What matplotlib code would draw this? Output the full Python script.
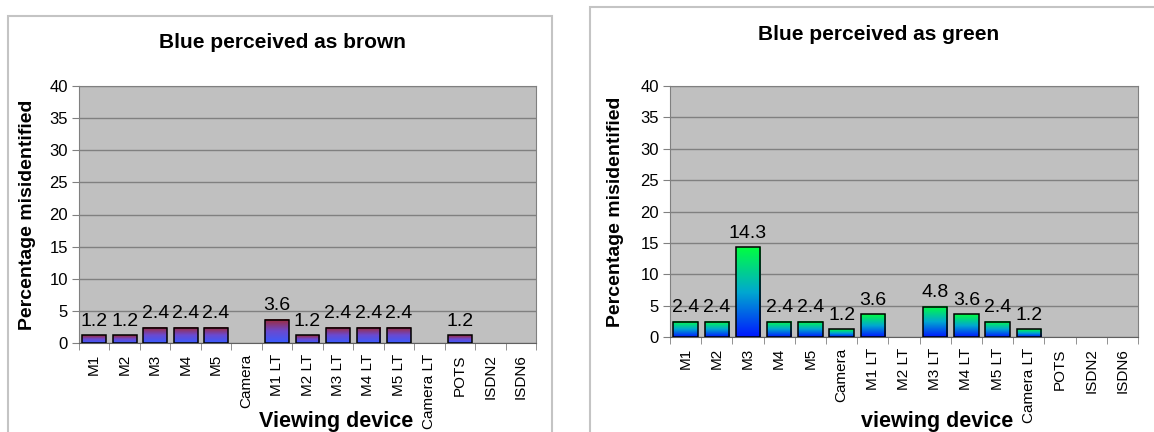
import matplotlib
matplotlib.use('Agg')
import matplotlib.pyplot as plt
import numpy as np
from matplotlib.colors import LinearSegmentedColormap
from matplotlib.patches import Rectangle

plt.rcParams['font.family'] = ['Liberation Sans', 'DejaVu Sans']

devices = ['M1', 'M2', 'M3', 'M4', 'M5', 'Camera', 'M1 LT', 'M2 LT', 'M3 LT',
           'M4 LT', 'M5 LT', 'Camera LT', 'POTS', 'ISDN2', 'ISDN6']
brown = [1.2, 1.2, 2.4, 2.4, 2.4, 0, 3.6, 1.2, 2.4, 2.4, 2.4, 0, 1.2, 0, 0]
green = [2.4, 2.4, 14.3, 2.4, 2.4, 1.2, 3.6, 0, 4.8, 3.6, 2.4, 1.2, 0, 0, 0]

W, H = 1154, 432
fig = plt.figure(figsize=(W / 100, H / 100), dpi=100)

# chart frames (light grey boxes)
fig.patches.append(Rectangle((8 / W, -0.1), 544 / W, 1.1 - 16 / H, transform=fig.transFigure,
                             fill=False, ec='#c4c4c4', lw=1.5))
fig.patches.append(Rectangle((590 / W, -0.1), 0.6, 1.1 - 7 / H, transform=fig.transFigure,
                             fill=False, ec='#c4c4c4', lw=1.5))

cm_brown = LinearSegmentedColormap.from_list('br', ['#3a5cff', '#6a4ad0', '#a02a35'])
cm_green = LinearSegmentedColormap.from_list('gr', ['#0018ff', '#00a8d0', '#00ff40'])
grad = np.linspace(0, 1, 256).reshape(-1, 1)


def panel(rect, vals, cmap, title, tpos, xlabel, xpos, ypos):
    ax = fig.add_axes(rect)
    ax.set_facecolor('#c0c0c0')
    x = np.arange(len(devices))
    vals = np.array(vals)
    w = 0.78
    nz = vals > 0
    for xi, v in zip(x[nz], vals[nz]):
        ax.imshow(grad, extent=[xi - w / 2, xi + w / 2, 0, v], aspect='auto',
                  cmap=cmap, origin='lower', zorder=3)
        ax.text(xi, v + 0.9, f'{v:.1f}', ha='center', va='bottom', fontsize=14, zorder=5)
    ax.bar(x[nz], vals[nz], width=w, facecolor='none', edgecolor='black', lw=1.1, zorder=4)
    ax.set_xlim(-0.5, len(devices) - 0.5)
    ax.set_ylim(0, 40)
    ax.set_yticks(range(0, 41, 5))
    ax.yaxis.grid(True, color='#808080', lw=1)
    ax.set_axisbelow(True)
    ax.set_xticks(x)
    ax.set_xticklabels(devices, rotation=90, fontsize=11)
    ax.set_xticks(np.arange(-0.5, len(devices)), minor=True)
    ax.tick_params(axis='x', which='major', length=0, pad=8)
    ax.tick_params(axis='x', which='minor', length=5, color='#808080')
    ax.tick_params(axis='y', length=5, color='#808080', labelsize=12, pad=3)
    for s in ['top', 'right', 'left']:
        ax.spines[s].set_color('#808080')
    ax.spines['bottom'].set_color('#606060')
    fig.text(tpos[0] / W, 1 - tpos[1] / H, title, ha='center', va='center',
             fontsize=15, fontweight='bold')
    fig.text(xpos[0] / W, 1 - xpos[1] / H, xlabel, ha='center', va='center',
             fontsize=15.5, fontweight='bold')
    fig.text(ypos[0] / W, 1 - ypos[1] / H, 'Percentage misidentified', ha='center',
             va='center', rotation=90, fontsize=14, fontweight='bold')
    return ax


panel([79 / W, 89 / H, 457 / W, 257 / H], brown, cm_brown, 'Blue perceived as brown',
      (282, 42), 'Viewing device', (336, 421), (28, 215))
panel([670 / W, 95 / H, 468 / W, 251 / H], green, cm_green, 'Blue perceived as green',
      (879, 35), 'viewing device', (937, 421), (616, 212))

fig.savefig('out.png', dpi=100)
